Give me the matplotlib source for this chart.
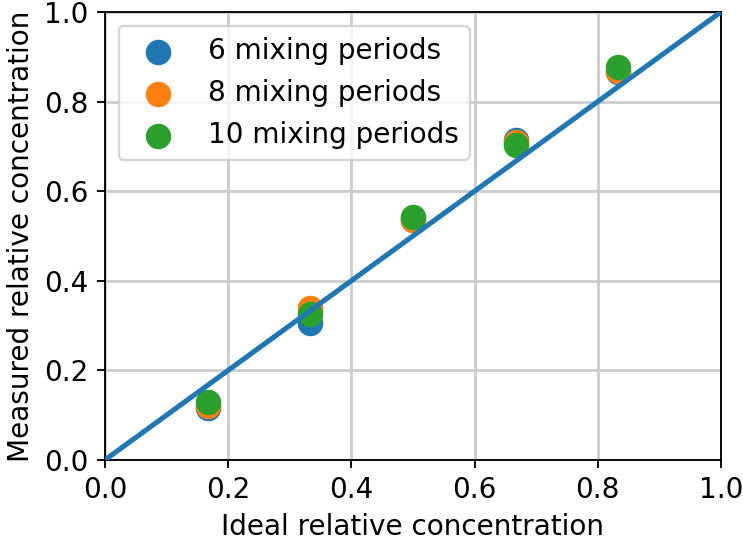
import matplotlib
matplotlib.use("Agg")
import matplotlib.pyplot as plt

ideal = [1/6, 2/6, 3/6, 4/6, 5/6]
measured_6 = [0.115, 0.305, 0.535, 0.715, 0.865]
measured_8 = [0.12, 0.34, 0.535, 0.71, 0.868]
measured_10 = [0.13, 0.325, 0.543, 0.702, 0.878]
labels = ["6 mixing periods", "8 mixing periods", "10 mixing periods"]

plt.rcParams['font.size'] = 12
DPI = 167
fig = plt.figure(figsize=(744 / DPI, 545 / DPI), dpi=DPI)
ax = fig.add_axes([0.141, 0.156, 0.828, 0.822])

for vals, lab in zip([measured_6, measured_8, measured_10], labels):
    ax.scatter(ideal, vals, s=100, label=lab, zorder=2)

ax.plot([0, 1], [0, 1], color='#1f77b4', linewidth=2.2, zorder=3)

ax.set_xlim(0, 1)
ax.set_ylim(0, 1)
ax.grid(True, color='#cccccc', linewidth=1.2, zorder=0)
ax.set_axisbelow(True)
ax.set_xlabel("Ideal relative concentration")
ax.set_ylabel("Measured relative concentration")
ax.legend(loc='upper left')

fig.savefig("out.png", dpi=DPI)
